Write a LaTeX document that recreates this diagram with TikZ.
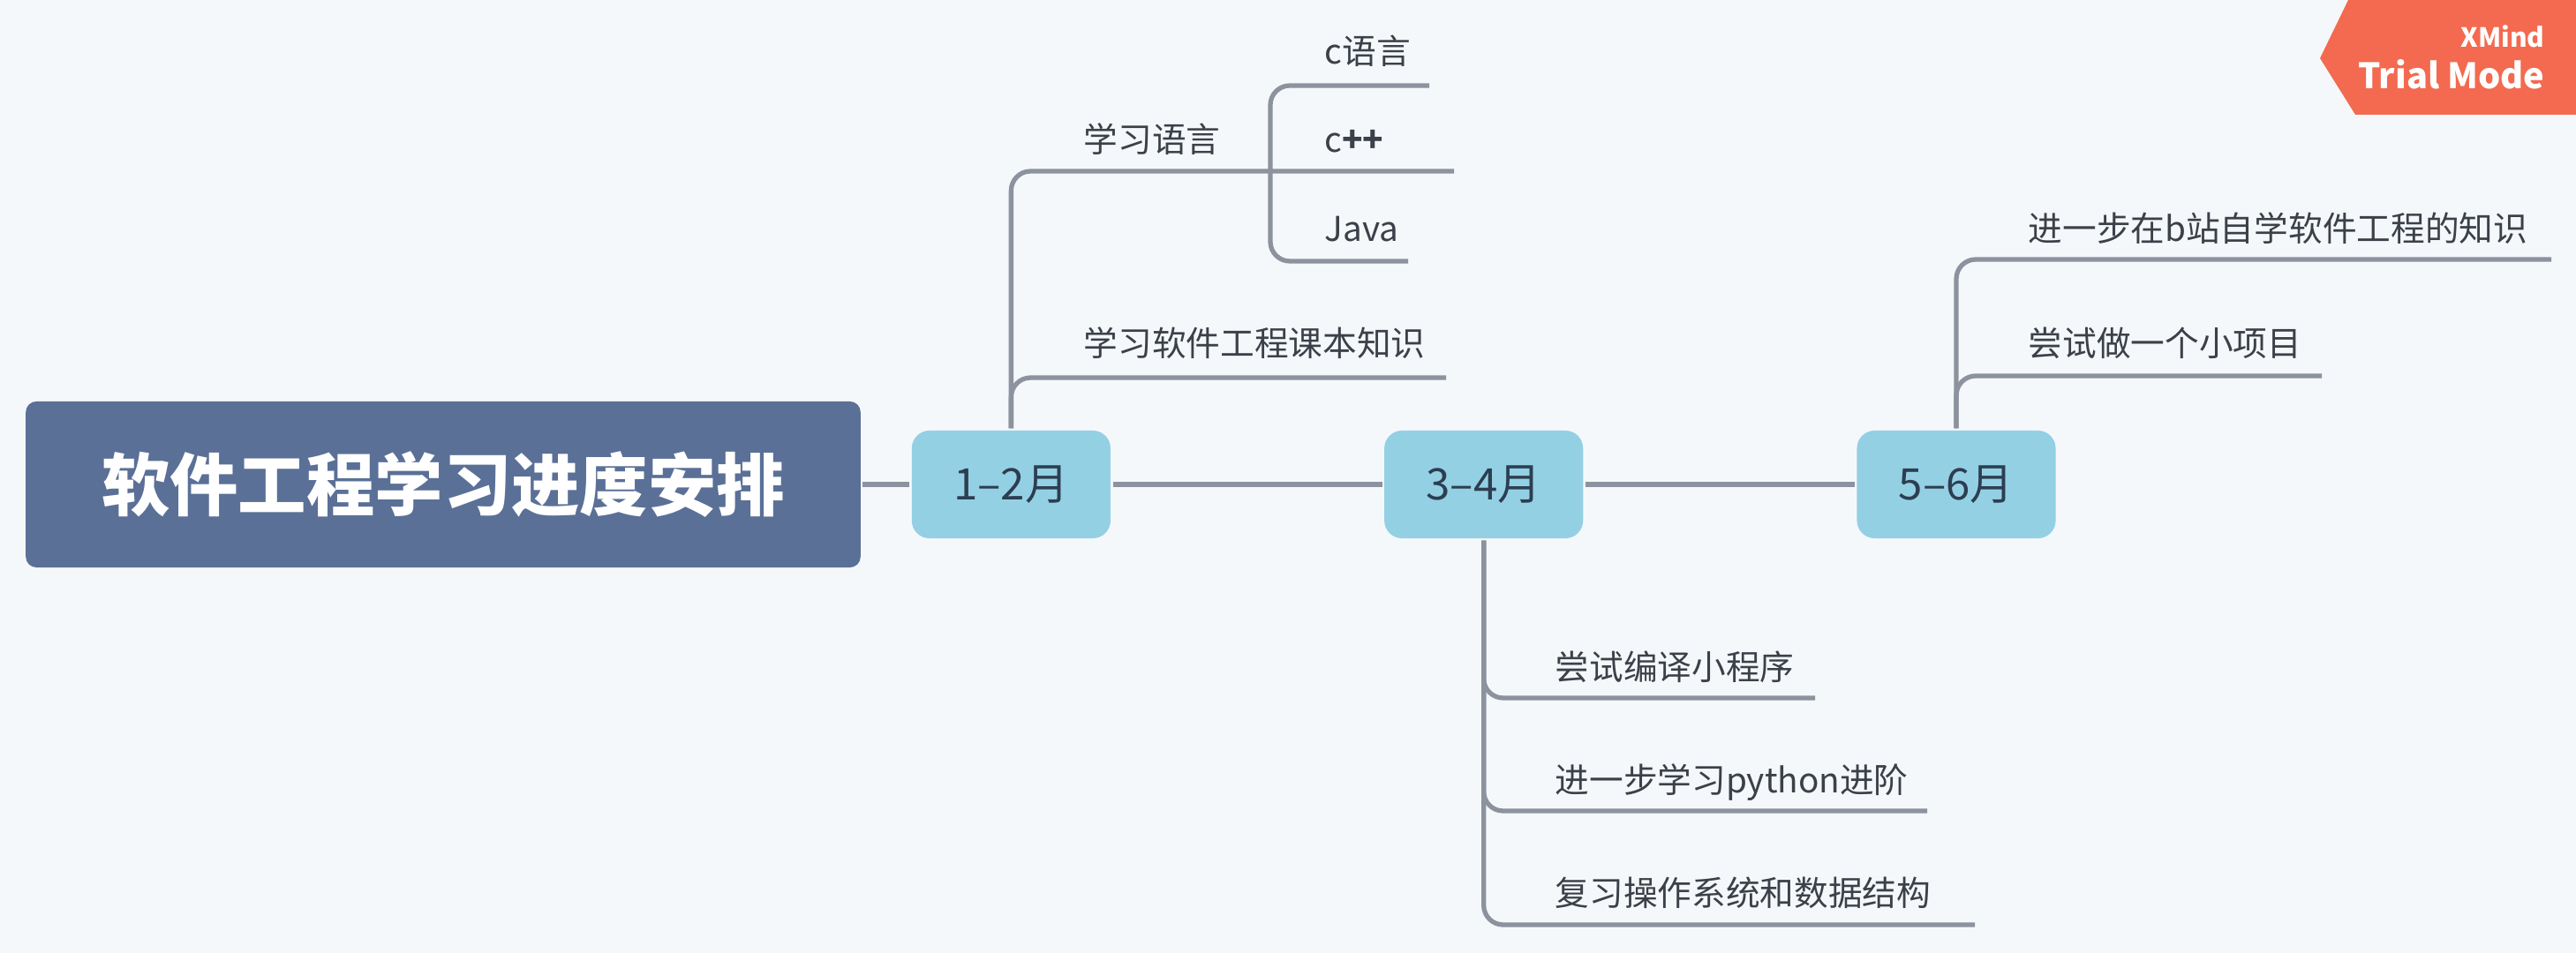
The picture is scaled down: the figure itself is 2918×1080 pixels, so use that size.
\documentclass[tikz,border=0pt]{standalone}
\usepackage{fontspec}
\setmainfont{Noto Sans CJK SC}
\definecolor{bgcol}{HTML}{F5F8FB}
\definecolor{rootcol}{HTML}{5A7097}
\definecolor{monthcol}{HTML}{94D0E4}
\definecolor{monthtext}{HTML}{2C3E50}
\definecolor{leaftext}{HTML}{3C4048}
\definecolor{linecol}{HTML}{8C929E}
\definecolor{badgecol}{HTML}{F36A50}
\begin{document}
\begin{tikzpicture}[x=0.01cm, y=-0.01cm, node distance={5.35cm}, line width=1.5pt,
    main/.style = {draw=none, fill=rootcol, rounded corners=0.12cm, minimum width=9.45cm, minimum height=1.88cm, text=white, font=\fontsize{22}{26}\selectfont\bfseries},
    month/.style = {draw=none, fill=monthcol, rounded corners=0.2cm, minimum width=2.25cm, minimum height=1.22cm, text=monthtext, font=\fontsize{14}{17}\selectfont},
    leaf/.style = {anchor=base west, inner sep=0pt, text=leaftext, font=\fontsize{11}{13}\selectfont},
    branch/.style = {draw=linecol, rounded corners=0.22cm},
    badge/.style = {anchor=east, inner sep=0pt, text=white, font=\bfseries}]
        \fill[bgcol] (0,0) rectangle (2918,1080);
        \useasboundingbox (0,0) rectangle (2918,1080);

        \node[main] (0) at (502,549)                      {软件工程学习进度安排};
        \node[month] (1) [right of=0, node distance=6.43cm] {1–2月};
        \node[month] (2) [right of=1]                      {3–4月};
        \node[month] (3) [right of=2]                      {5–6月};

        \draw[branch] (0) -- (1);
        \draw[branch] (1) -- (2);
        \draw[branch] (2) -- (3);

        % 1-2月
        \node[leaf] (lang) at (1225,173) {学习语言};
        \node[leaf] (book) at (1225,404) {学习软件工程课本知识};
        \node[leaf] (cl) at (1498,73)    {c语言};
        \node[leaf] (cpp) at (1498,173)  {c\textbf{++}};
        \node[leaf] (java) at (1498,274) {Java};
        \coordinate (lang end) at (1647,194);
        \coordinate (book end) at (1638,428);
        \coordinate (lang fork) at (1439,194);
        \coordinate (cl end) at (1619,97);
        \coordinate (java end) at (1595,296);
        \draw[branch] (1.north) |- (lang end);
        \draw[branch] (1.north) |- (book end);
        \draw[branch] (lang fork) |- (cl end);
        \draw[branch] (lang fork) |- (java end);

        % 3-4月
        \node[leaf] (compile) at (1759,771) {尝试编译小程序};
        \node[leaf] (python) at (1759,899)  {进一步学习python进阶};
        \node[leaf] (review) at (1759,1027) {复习操作系统和数据结构};
        \coordinate (compile end) at (2056,791);
        \coordinate (python end) at (2183,919);
        \coordinate (review end) at (2237,1048);
        \draw[branch] (2.south) |- (compile end);
        \draw[branch] (2.south) |- (python end);
        \draw[branch] (2.south) |- (review end);

        % 5-6月
        \node[leaf] (bili) at (2295,274)    {进一步在b站自学软件工程的知识};
        \node[leaf] (project) at (2295,404) {尝试做一个小项目};
        \coordinate (bili end) at (2890,294);
        \coordinate (project end) at (2630,426);
        \draw[branch] (3.north) |- (bili end);
        \draw[branch] (3.north) |- (project end);

        % trial badge
        \fill[badgecol] (2628,66) -- (2660,0) -- (2918,0) -- (2918,130) -- (2668,130) -- cycle;
        \node[badge, font=\fontsize{8.5}{10}\selectfont\bfseries] (xmind) at (2885,41) {XMind};
        \node[badge, font=\fontsize{11.3}{14}\selectfont\bfseries] (trial) at (2885,84) {Trial Mode};
    \end{tikzpicture}
\end{document}
